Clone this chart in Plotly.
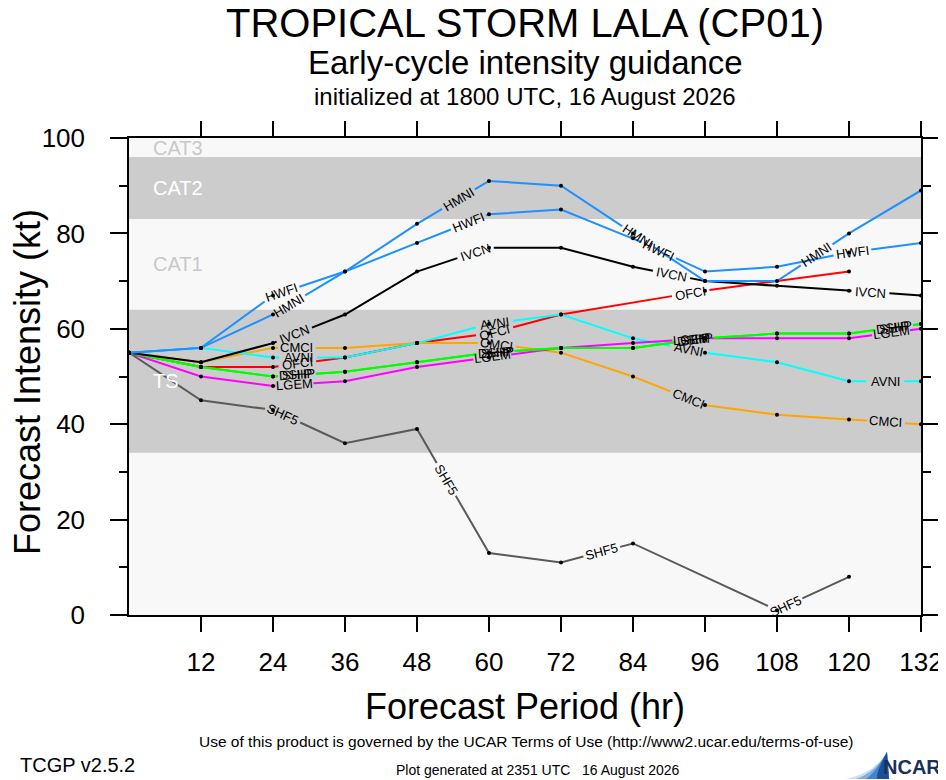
import math

import plotly.graph_objects as go

# forecast hours and intensity guidance (kt); None = no forecast at that hour
hours = [0, 12, 24, 36, 48, 60, 72, 84, 96, 108, 120, 132]

OFCI = [55, 52, 52, 54, 57, 59, 63, None, 68, None, 72, None]
CMCI = [55, 53, 56, 56, 57, 57, 55, 50, 44, 42, 41, 40]
AVNI = [55, 56, 54, 54, 57, 61, 63, 58, 55, 53, 49, 49]
SHF5 = [55, 45, 43, 36, 39, 13, 11, 15, None, 1, 8, None]
LGEM = [55, 50, 48, 49, 52, 54, 56, 57, 58, 58, 58, 60]
DSHP = [55, 52, 50, 51, 53, 55, 56, 56, 58, 59, 59, 61]
SHIP = [55, 52, 50, 51, 53, 55, 56, 56, 58, 59, 59, 61]
IVCN = [55, 53, 57, 63, 72, 77, 77, 73, 70, 69, 68, 67]
HMNI = [55, 56, 63, 72, 82, 91, 90, 80, 70, 70, 80, 89]
HWFI = [55, 56, 67, 72, 78, 84, 85, 79, 72, 73, 76, 78]

models = ["OFCI", "CMCI", "AVNI", "SHF5", "LGEM", "DSHP", "SHIP", "IVCN", "HMNI", "HWFI"]
series = [OFCI, CMCI, AVNI, SHF5, LGEM, DSHP, SHIP, IVCN, HMNI, HWFI]
colors = ["#ff0000", "#ffa500", "#00ffff", "#5a5a5a", "#ff00ff", "#00ff00", "#00ff00",
          "#000000", "#1e90ff", "#1e90ff"]

# Saffir-Simpson bands
band_names = ["TS", "CAT1", "CAT2", "CAT3"]
band_lo = [34, 64, 83, 96]
band_hi = [64, 83, 96, 113]

# page body has an 8px margin, so the figure is made that much smaller
OFF = 8
W, H = 946 - OFF, 780 - OFF
P_LEFT, P_RIGHT, P_TOP, P_BOTTOM = 129, 921, 138, 615
L, T = P_LEFT - OFF, P_TOP - OFF
R, B = W - (P_RIGHT - OFF), H - (P_BOTTOM - OFF)
PW, PH = P_RIGHT - P_LEFT, P_BOTTOM - P_TOP
XMAX, YMAX = 132, 100
SX, SY = PW / XMAX, PH / YMAX

LABEL_START, LABEL_STEP, GAP = 170, 200, 19

FONT = "Liberation Sans, Arial, Helvetica"


def paper_y(pix):
    return (P_BOTTOM - pix) / PH


def paper_x(pix):
    return (pix - P_LEFT) / PW


def split_line(xs, ys):
    # cut gaps into the line where labels go, like NCL line labels
    pts = [(x, y) for x, y in zip(xs, ys) if y is not None]
    seg = []
    cum = [0.0]
    for (x0, y0), (x1, y1) in zip(pts[:-1], pts[1:]):
        d = math.hypot((x1 - x0) * SX, (y1 - y0) * SY)
        seg.append(d)
        cum.append(cum[-1] + d)
    total = cum[-1]

    def at(s):
        for i in range(len(seg)):
            if s <= cum[i + 1] or i == len(seg) - 1:
                t = (s - cum[i]) / seg[i]
                (x0, y0), (x1, y1) = pts[i], pts[i + 1]
                ang = -math.degrees(math.atan2((y1 - y0) * SY, (x1 - x0) * SX))
                return x0 + t * (x1 - x0), y0 + t * (y1 - y0), ang

    centers = []
    s = LABEL_START
    while s + GAP <= total:
        centers.append(s)
        s += LABEL_STEP

    cuts = sorted(set(cum + [c - GAP for c in centers] + [c + GAP for c in centers]))
    lx, ly = [], []
    drawn = False
    for a, b in zip(cuts[:-1], cuts[1:]):
        mid = (a + b) / 2
        if any(abs(mid - c) < GAP for c in centers):
            if drawn:
                lx.append(None)
                ly.append(None)
            drawn = False
            continue
        if not drawn:
            xa, ya, _ = at(a)
            lx.append(xa)
            ly.append(ya)
        xb, yb, _ = at(b)
        lx.append(xb)
        ly.append(yb)
        drawn = True
    return lx, ly, [at(c) for c in centers]


fig = go.Figure()
annotations = []
shapes = []

for name, lo, hi in zip(band_names, band_lo, band_hi):
    gray = name in ("TS", "CAT2")
    if gray:
        shapes.append(dict(type="rect", xref="x", yref="y", x0=0, x1=XMAX, y0=lo, y1=min(hi, YMAX),
                           fillcolor="#cccccc", line_width=0, layer="below"))
    annotations.append(dict(x=3.7, y=(lo + min(hi, YMAX)) / 2, xref="x", yref="y", text=name,
                            showarrow=False, xanchor="left", yanchor="middle",
                            font=dict(family=FONT, size=20, color="#ffffff" if gray else "#c8c8c8")))

for name, vals, col in zip(models, series, colors):
    lx, ly, labs = split_line(hours, vals)
    fig.add_trace(go.Scatter(x=lx, y=ly, mode="lines", line=dict(color=col, width=2),
                             name=name, showlegend=False, hoverinfo="skip"))
    for x, y, ang in labs:
        annotations.append(dict(x=x, y=y, xref="x", yref="y", text=name, showarrow=False,
                                textangle=ang, xanchor="center", yanchor="middle",
                                font=dict(family=FONT, size=13, color="black")))

for name, vals in zip(models, series):
    hx = [h for h, v in zip(hours, vals) if v is not None]
    hy = [v for v in vals if v is not None]
    fig.add_trace(go.Scatter(x=hx, y=hy, mode="markers", marker=dict(color="black", size=4),
                             name=name, showlegend=False))

# titles and footer (positions in page pixels)
texts = [
    dict(x=paper_x(525), y=paper_y(23), text="TROPICAL STORM LALA (CP01)", font=dict(size=40)),
    dict(x=paper_x(525), y=paper_y(62), text="Early-cycle intensity guidance", font=dict(size=33)),
    dict(x=paper_x(525), y=paper_y(97), text="initialized at 1800 UTC, 16 August 2026", font=dict(size=24)),
    dict(x=paper_x(525), y=paper_y(706), text="Forecast Period (hr)", font=dict(size=36)),
    dict(x=paper_x(27), y=paper_y(382), text="Forecast Intensity (kt)", textangle=-90, font=dict(size=36)),
    dict(x=paper_x(526), y=paper_y(742),
         text="Use of this product is governed by the UCAR Terms of Use (http://www2.ucar.edu/terms-of-use)",
         font=dict(size=15.5)),
    dict(x=paper_x(18), y=paper_y(765), text="TCGP v2.5.2", xanchor="left", font=dict(size=20)),
    dict(x=paper_x(538), y=paper_y(770), text="Plot generated at 2351 UTC\u00a0\u00a0\u00a016 August 2026",
         font=dict(size=14)),
    dict(x=paper_x(943), y=paper_y(767), text="<b>NCAR</b>", xanchor="right",
         font=dict(size=20, color="#1a2f5c")),
]
for a in texts:
    a.update(xref="paper", yref="paper", showarrow=False)
    a.setdefault("xanchor", "center")
    a.setdefault("yanchor", "middle")
    a["font"].setdefault("color", "black")
    a["font"]["family"] = FONT
annotations += texts

# NCAR swoosh, light to dark from left to right
for x_start, col in [(846, "#cfe2f4"), (856, "#7fb2e2"), (866, "#3f86cf"), (877, "#1d4f96")]:
    shapes.append(dict(type="path", xref="paper", yref="paper", layer="above",
                       path="M {},{} Q {},{} {},{} L {},{} Z".format(
                           paper_x(x_start), paper_y(779), paper_x(876), paper_y(772),
                           paper_x(887), paper_y(752), paper_x(889), paper_y(779)),
                       fillcolor=col, line_width=0))

fig.update_layout(
    width=W, height=H,
    margin=dict(l=L, r=R, t=T, b=B, autoexpand=False),
    paper_bgcolor="white",
    plot_bgcolor="#f8f8f8",
    shapes=shapes,
    annotations=annotations,
    showlegend=False,
)
fig.update_xaxes(range=[0, XMAX], tickvals=hours[1:], ticks="outside", ticklen=15, tickwidth=1.5,
                 tickcolor="black", showline=True, linewidth=1.5, linecolor="black", mirror="ticks",
                 showgrid=False, zeroline=False, ticklabelstandoff=8, automargin=False,
                 tickfont=dict(family=FONT, size=26, color="black"))
fig.update_yaxes(range=[0, YMAX], dtick=20, ticks="outside", ticklen=17, tickwidth=1.5,
                 tickcolor="black", showline=True, linewidth=1.5, linecolor="black", mirror="ticks",
                 showgrid=False, zeroline=False, ticklabelstandoff=20, automargin=False,
                 minor=dict(dtick=10, ticks="outside", ticklen=8, tickwidth=1.5, tickcolor="black"),
                 tickfont=dict(family=FONT, size=26, color="black"))

fig.write_html("out.html")
